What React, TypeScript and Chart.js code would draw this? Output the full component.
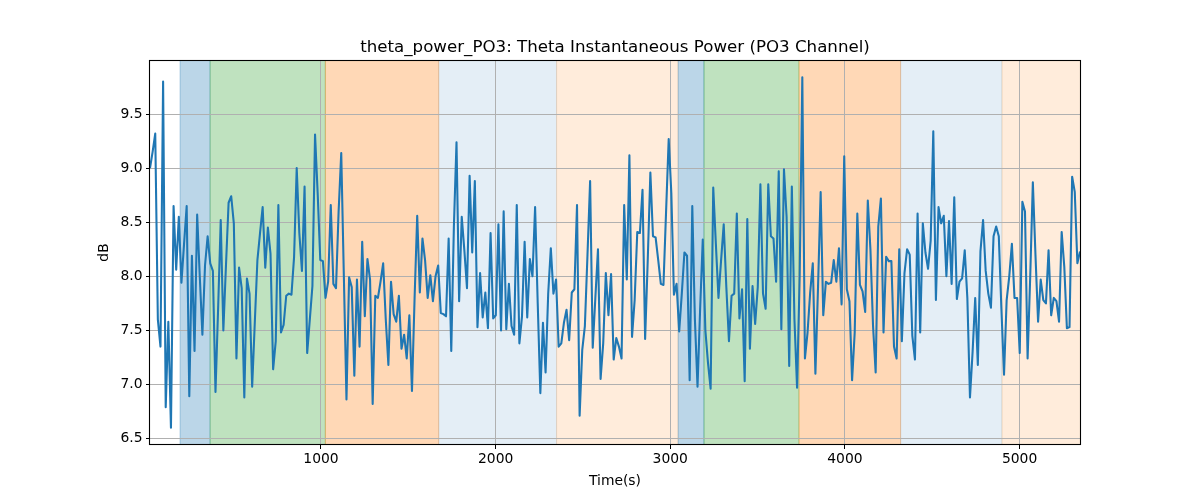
import React, { useEffect, useRef } from "react";
import { Chart, registerables } from "chart.js";

Chart.register(...registerables);

const START_TIME = 21;
const STEP = 15;

const POWER_DB = [
  9.00, 9.15, 9.32, 7.60, 7.35, 9.80, 6.79, 7.58, 6.60, 8.65,
  8.06, 8.55, 7.94, 8.30, 8.65, 6.89, 8.19, 7.31, 8.57, 8.00,
  7.46, 8.10, 8.37, 8.12, 8.05, 6.93, 7.70, 8.52, 7.50, 8.10,
  8.68, 8.74, 8.49, 7.24, 8.08, 7.89, 6.88, 7.98, 7.84, 6.98,
  7.57, 8.15, 8.40, 8.64, 8.08, 8.45, 8.21, 7.14, 7.40, 8.66,
  7.48, 7.55, 7.82, 7.84, 7.83, 8.18, 9.00, 8.40, 8.05, 8.83,
  7.29, 7.60, 7.91, 9.31, 8.77, 8.15, 8.14, 7.80, 7.95, 8.66,
  7.93, 7.89, 8.60, 9.14, 8.00, 6.86, 7.99, 7.90, 7.08, 7.97,
  7.35, 8.32, 7.63, 8.16, 7.97, 6.82, 7.82, 7.80, 7.95, 8.12,
  7.60, 7.18, 7.95, 7.65, 7.58, 7.82, 7.33, 7.46, 7.24, 7.64,
  6.94, 7.80, 8.56, 7.85, 8.35, 8.15, 7.80, 8.01, 7.77, 8.00,
  8.10, 7.66, 7.65, 7.63, 8.35, 7.31, 8.46, 9.24, 7.77, 8.55,
  8.24, 7.89, 8.93, 8.22, 8.88, 7.53, 8.03, 7.62, 7.85, 7.52,
  8.40, 7.61, 7.64, 8.48, 7.50, 8.60, 7.51, 7.93, 7.54, 7.46,
  8.66, 7.38, 7.63, 8.32, 7.62, 8.16, 8.00, 8.64, 7.75, 6.92,
  7.57, 7.11, 7.84, 8.26, 7.84, 7.97, 7.35, 7.38, 7.57, 7.69,
  7.41, 7.85, 7.88, 8.66, 6.71, 7.32, 7.54, 8.20, 8.88, 7.34,
  7.80, 8.25, 7.05, 7.38, 8.03, 7.64, 8.02, 7.23, 7.43, 7.35,
  7.24, 8.66, 7.97, 9.12, 7.44, 7.78, 8.41, 8.40, 8.80, 7.42,
  8.15, 8.96, 8.37, 8.36, 8.15, 7.93, 7.92, 8.60, 9.27, 8.77,
  7.83, 7.93, 7.49, 7.84, 8.22, 8.19, 7.04, 8.65, 7.60, 6.98,
  7.70, 8.34, 7.50, 7.20, 6.96, 8.82, 8.30, 7.80, 8.15, 8.48,
  7.90, 7.40, 7.82, 7.84, 8.58, 7.61, 7.88, 7.03, 8.53, 7.33,
  7.91, 7.56, 7.90, 8.85, 7.84, 7.70, 8.85, 8.37, 8.35, 7.95,
  8.97, 7.51, 8.99, 8.55, 7.17, 8.83, 7.60, 6.97, 8.00, 9.84,
  7.24, 7.48, 7.85, 8.12, 7.10, 7.90, 8.78, 7.64, 7.95, 7.93,
  7.94, 8.15, 7.95, 8.26, 7.74, 9.11, 7.88, 7.77, 7.04, 7.48,
  8.58, 7.92, 7.86, 7.67, 8.70, 8.25, 7.54, 7.11, 8.46, 8.72,
  7.48, 8.18, 8.14, 8.14, 7.35, 7.24, 8.25, 7.40, 8.03, 8.25,
  8.20, 7.45, 7.23, 8.58, 7.48, 8.49, 8.22, 8.07, 8.33, 9.34,
  7.78, 8.64, 8.49, 8.56, 8.00, 8.51, 7.93, 8.73, 7.79, 7.95,
  7.98, 8.24, 7.80, 6.88, 7.30, 7.80, 7.18, 8.23, 8.52, 8.05,
  7.84, 7.71, 8.37, 8.46, 8.37, 7.70, 7.09, 7.78, 8.00, 8.30,
  7.80, 7.80, 7.29, 8.69, 8.60, 7.24, 8.00, 8.87, 8.20, 7.58,
  7.97, 7.78, 7.75, 8.24, 7.64, 7.80, 7.77, 7.58, 8.41, 8.09,
  7.52, 7.53, 8.92, 8.78, 8.12, 8.23,
];

const TIMES = POWER_DB.map((_, i) => START_TIME + i * STEP);

const X_TICKS = [1000, 2000, 3000, 4000, 5000];
const Y_TICKS = [6.5, 7.0, 7.5, 8.0, 8.5, 9.0, 9.5];
const Y_MIN = 6.44;
const Y_MAX = 10.0;

const SPAN_STARTS = [193, 365, 1025, 1674, 2349, 3045, 3193, 3737, 4319, 4899];
const SPAN_ENDS = [365, 1025, 1674, 2349, 3045, 3193, 3737, 4319, 4899, 5400];
const SPAN_KINDS = [
  "blue", "green", "orange", "paleBlue", "paleOrange",
  "blue", "green", "orange", "paleBlue", "paleOrange",
];

const SPAN_COLORS: Record<string, string> = {
  blue: "rgba(31,119,180,0.3)",
  green: "rgba(44,160,44,0.3)",
  orange: "rgba(255,127,14,0.3)",
  paleBlue: "rgba(31,119,180,0.12)",
  paleOrange: "rgba(255,127,14,0.15)",
};

const TITLE = "theta_power_PO3: Theta Instantaneous Power (PO3 Channel)";
const X_LABEL = "Time(s)";
const Y_LABEL = "dB";
const FONT = '"DejaVu Sans", sans-serif';

const spanPlugin = {
  id: "spans",
  beforeDraw(chart: any) {
    const { ctx, chartArea: a, scales } = chart;
    const x = scales.x;
    ctx.save();
    SPAN_STARTS.forEach((s, i) => {
      let x1 = x.getPixelForValue(s);
      let x2 = x.getPixelForValue(SPAN_ENDS[i]);
      x1 = Math.max(x1, a.left);
      x2 = Math.min(x2, a.right);
      if (x2 <= x1) return;
      const c = SPAN_COLORS[SPAN_KINDS[i]];
      ctx.fillStyle = c;
      ctx.fillRect(x1, a.top, x2 - x1, a.bottom - a.top);
      ctx.strokeStyle = c;
      ctx.lineWidth = 1;
      ctx.beginPath();
      ctx.moveTo(x1, a.top);
      ctx.lineTo(x1, a.bottom);
      if (x2 < a.right) {
        ctx.moveTo(x2, a.top);
        ctx.lineTo(x2, a.bottom);
      }
      ctx.stroke();
    });
    ctx.restore();
  },
};

const framePlugin = {
  id: "frame",
  afterDatasetsDraw(chart: any) {
    const { ctx, chartArea: a } = chart;
    ctx.save();
    ctx.strokeStyle = "#000";
    ctx.lineWidth = 1.1;
    ctx.strokeRect(Math.round(a.left) - 0.5, Math.round(a.top) + 0.5,
      Math.round(a.right - a.left) + 1, Math.round(a.bottom - a.top) - 1);
    ctx.restore();
  },
  afterDraw(chart: any) {
    const { ctx, chartArea: a } = chart;
    const cx = (a.left + a.right) / 2;
    const cy = (a.top + a.bottom) / 2;
    ctx.save();
    ctx.fillStyle = "#000";
    ctx.textAlign = "center";
    ctx.font = `16.67px ${FONT}`;
    ctx.textBaseline = "alphabetic";
    ctx.fillText(TITLE, cx, a.top - 8);
    ctx.font = `13.89px ${FONT}`;
    ctx.textBaseline = "middle";
    ctx.fillText(X_LABEL, cx, 481);
    ctx.translate(104, cy);
    ctx.rotate(-Math.PI / 2);
    ctx.fillText(Y_LABEL, 0, 0);
    ctx.restore();
  },
};

export default function App() {
  const ref = useRef<HTMLCanvasElement | null>(null);

  useEffect(() => {
    if (!ref.current) return;
    const chart = new Chart(ref.current, {
      type: "line",
      data: {
        datasets: [
          {
            data: TIMES.map((t, i) => ({ x: t, y: POWER_DB[i] })),
            borderColor: "#1f77b4",
            borderWidth: 2.08,
            borderJoinStyle: "round",
            pointRadius: 0,
            tension: 0,
            fill: false,
          },
        ],
      },
      options: {
        animation: false,
        responsive: false,
        devicePixelRatio: 1,
        layout: { padding: { left: 0, right: 120, top: 60, bottom: 0 } },
        plugins: {
          legend: { display: false },
          title: { display: false },
          tooltip: { enabled: false },
        },
        scales: {
          x: {
            type: "linear",
            min: TIMES[0],
            max: TIMES[TIMES.length - 1],
            afterBuildTicks: (scale: any) => {
              scale.ticks = X_TICKS.map((v) => ({ value: v }));
            },
            afterFit: (scale: any) => {
              scale.height = 55;
            },
            grid: {
              color: "#b0b0b0",
              lineWidth: 1,
              drawTicks: true,
              tickLength: 4,
              tickColor: "#000",
            },
            border: { display: false },
            ticks: {
              color: "#000",
              font: { family: FONT, size: 13.89 },
              padding: 2,
              maxRotation: 0,
              autoSkip: false,
              callback: (v: any) => String(v),
            },
          },
          y: {
            type: "linear",
            min: Y_MIN,
            max: Y_MAX,
            afterBuildTicks: (scale: any) => {
              scale.ticks = Y_TICKS.map((v) => ({ value: v }));
            },
            afterFit: (scale: any) => {
              scale.width = 150;
            },
            grid: {
              color: "#b0b0b0",
              lineWidth: 1,
              drawTicks: true,
              tickLength: 4,
              tickColor: "#000",
            },
            border: { display: false },
            ticks: {
              color: "#000",
              font: { family: FONT, size: 13.89 },
              padding: 3.5,
              autoSkip: false,
              callback: (v: any) => Number(v).toFixed(1),
            },
          },
        },
      },
      plugins: [spanPlugin, framePlugin],
    });
    return () => chart.destroy();
  }, []);

  return (
    <canvas
      ref={ref}
      width={1200}
      height={500}
      style={{ position: "absolute", left: 0, top: 0, width: 1200, height: 500 }}
    />
  );
}
